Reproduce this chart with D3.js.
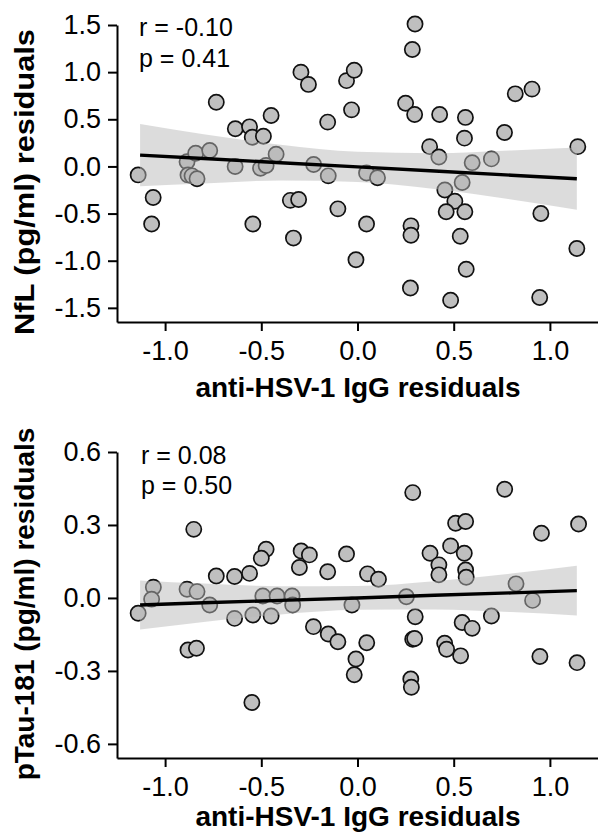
<!DOCTYPE html>
<html>
<head>
<meta charset="utf-8">
<script src="https://cdn.jsdelivr.net/npm/d3@7"></script>
<style>
  html, body { margin: 0; padding: 0; background: #fff; }
  svg { display: block; }
  text { font-family: "Liberation Sans", Arial, sans-serif; fill: #000; }
</style>
</head>
<body>
<svg id="chart" width="598" height="840"></svg>
<script>
// ---------------- data ----------------
const xTicks = [-1.0, -0.5, 0.0, 0.5, 1.0];
const nflTicks = [-1.5, -1.0, -0.5, 0.0, 0.5, 1.0, 1.5];
const ptauTicks = [-0.6, -0.3, 0.0, 0.3, 0.6];

const xTitle = "anti-HSV-1 IgG residuals";
const nflTitle = "NfL (pg/ml) residuals";
const ptauTitle = "pTau-181 (pg/ml) residuals";
const nflStats = ["r = -0.10", "p = 0.41"];
const ptauStats = ["r = 0.08", "p = 0.50"];

// NfL panel points
const nflX = [-1.14, -1.062, -1.07, -0.886, -0.841, -0.768, -0.881, -0.86, -0.834, -0.734,
  -0.635, -0.561, -0.547, -0.489, -0.449, -0.636, -0.504, -0.475, -0.423, -0.544,
  -0.294, -0.255, -0.349, -0.306, -0.333, -0.228, -0.152, -0.155, -0.102, -0.057,
  -0.017, -0.031, -0.008, 0.047, 0.104, 0.047, 0.25, 0.297, 0.299, 0.285,
  0.278, 0.278, 0.275, 0.375, 0.423, 0.427, 0.454, 0.484, 0.506, 0.461,
  0.558, 0.534, 0.565, 0.544, 0.561, 0.556, 0.596, 0.696, 0.764, 0.82,
  0.907, 0.953, 0.947, 1.14, 1.145];
const nflY = [-0.09, -0.33, -0.61, 0.05, 0.14, 0.17, -0.09, -0.10, -0.13, 0.68,
  0.40, 0.42, 0.31, 0.32, 0.54, 0.00, -0.02, 0.01, 0.13, -0.61,
  1.00, 0.87, -0.36, -0.35, -0.76, 0.02, -0.10, 0.47, -0.45, 0.91,
  1.02, 0.60, -0.99, -0.07, -0.12, -0.61, 0.67, 0.55, 1.51, 1.24,
  -0.63, -0.73, -1.29, 0.21, 0.10, 0.55, -0.25, -1.42, -0.37, -0.48,
  -0.48, -0.74, -1.09, -0.17, 0.52, 0.30, 0.04, 0.08, 0.36, 0.77,
  0.82, -0.50, -1.39, -0.87, 0.21];

// NfL regression fit and 95% CI band
const nflFitX = [-1.13, -0.8, -0.4, 0.0, 0.4, 0.8, 1.14];
const nflFit  = [0.12, 0.084, 0.039, -0.005, -0.049, -0.093, -0.131];
const nflLo   = [-0.21, -0.18, -0.15, -0.165, -0.24, -0.35, -0.46];
const nflHi   = [0.45, 0.34, 0.23, 0.155, 0.14, 0.17, 0.20];

// pTau-181 panel points
const ptauX = [-1.14, -1.061, -1.07, -0.886, -0.834, -0.851, -0.881, -0.837, -0.768, -0.734,
  -0.639, -0.561, -0.639, -0.544, -0.549, -0.475, -0.50, -0.492, -0.449, -0.418,
  -0.34, -0.337, -0.293, -0.25, -0.302, -0.229, -0.155, -0.152, -0.102, -0.057,
  -0.029, -0.008, -0.017, 0.052, 0.109, 0.048, 0.254, 0.287, 0.30, 0.287,
  0.297, 0.277, 0.28, 0.377, 0.423, 0.423, 0.453, 0.463, 0.484, 0.51,
  0.562, 0.555, 0.562, 0.565, 0.536, 0.544, 0.596, 0.696, 0.765, 0.824,
  0.91, 0.956, 0.948, 1.149, 1.141];
const ptauY = [-0.063, 0.044, -0.005, 0.036, 0.026, 0.282, -0.214, -0.207, -0.029, 0.090,
  0.088, 0.101, -0.084, -0.070, -0.43, 0.20, 0.163, 0.008, -0.074, 0.008,
  0.008, -0.029, 0.193, 0.177, 0.125, -0.118, 0.108, -0.148, -0.18, 0.181,
  -0.029, -0.251, -0.316, 0.099, 0.077, -0.184, 0.005, 0.433, -0.077, -0.17,
  -0.167, -0.333, -0.367, 0.184, 0.136, 0.095, -0.186, -0.211, 0.214, 0.307,
  0.314, 0.184, 0.115, 0.085, -0.238, -0.101, -0.125, -0.074, 0.447, 0.058,
  -0.01, 0.266, -0.241, 0.304, -0.266];

// pTau-181 regression fit and 95% CI band
const ptauFitX = [-1.13, -0.8, -0.4, 0.0, 0.4, 0.8, 1.14];
const ptauFit  = [-0.029, -0.020, -0.010, 0.000, 0.011, 0.021, 0.030];
const ptauLo   = [-0.130, -0.099, -0.068, -0.049, -0.047, -0.058, -0.072];
const ptauHi   = [0.072, 0.059, 0.048, 0.049, 0.069, 0.100, 0.132];

// ---------------- layout ----------------
const svg = d3.select("#chart");
const FONT_TICK = 27, FONT_TITLE = 28, FONT_STAT = 25;

function panel(cfg) {
  const x = d3.scaleLinear().domain([-1.25, 1.25]).range([117, 598]);
  const y = d3.scaleLinear().domain(cfg.yLim).range([cfg.bottom, cfg.top]);
  const g = svg.append("g");

  // points
  g.append("g").selectAll("circle")
    .data(cfg.xs.map((v, i) => [v, cfg.ys[i]]))
    .join("circle")
    .attr("cx", d => x(d[0]))
    .attr("cy", d => y(d[1]))
    .attr("r", 7.6)
    .attr("fill", "#bfbfbf")
    .attr("stroke", "#111")
    .attr("stroke-width", 1.7);

  // CI band
  const band = cfg.fitX.map((v, i) => ({ x: v, lo: cfg.lo[i], hi: cfg.hi[i] }));
  g.append("path")
    .datum(band)
    .attr("d", d3.area().curve(d3.curveMonotoneX)
      .x(d => x(d.x)).y0(d => y(d.lo)).y1(d => y(d.hi)))
    .attr("fill", "#bababa")
    .attr("fill-opacity", 0.5);

  // fit line
  g.append("path")
    .datum(cfg.fitX.map((v, i) => [v, cfg.fit[i]]))
    .attr("d", d3.line().x(d => x(d[0])).y(d => y(d[1])))
    .attr("fill", "none")
    .attr("stroke", "#000")
    .attr("stroke-width", 3.4);

  // axes
  const fmt = d => (Math.abs(d) < 1e-9 ? 0 : d).toFixed(1);
  const ax = g.append("g").attr("transform", `translate(0,${cfg.bottom})`)
    .call(d3.axisBottom(x).tickValues(xTicks).tickSize(9).tickSizeOuter(0)
      .tickPadding(10).tickFormat(fmt));
  const ay = g.append("g").attr("transform", "translate(117,0)")
    .call(d3.axisLeft(y).tickValues(cfg.ticks).tickSize(9).tickSizeOuter(0)
      .tickPadding(7).tickFormat(fmt));
  [ax, ay].forEach(a => {
    a.selectAll("path.domain").attr("stroke", "#000").attr("stroke-width", 2);
    a.selectAll(".tick line").attr("stroke", "#000").attr("stroke-width", 2);
    a.selectAll(".tick text").attr("font-size", FONT_TICK)
      .attr("font-family", "Liberation Sans, Arial, sans-serif").attr("fill", "#000");
  });

  // titles
  g.append("text")
    .attr("x", 358).attr("y", cfg.xTitleY)
    .attr("text-anchor", "middle")
    .attr("font-size", FONT_TITLE).attr("font-weight", "bold")
    .text(xTitle);
  const yt = g.append("text")
    .attr("transform", `translate(34,${cfg.yTitleC}) rotate(-90)`)
    .attr("text-anchor", "middle")
    .attr("font-size", FONT_TITLE).attr("font-weight", "bold")
    .text(cfg.yTitle);
  if (cfg.yTitleLen) {
    yt.attr("textLength", cfg.yTitleLen).attr("lengthAdjust", "spacingAndGlyphs");
  }

  // stats
  cfg.stats.forEach((s, i) => {
    g.append("text")
      .attr("x", cfg.statX).attr("y", cfg.statY[i])
      .attr("font-size", FONT_STAT)
      .text(s);
  });
}

panel({
  xs: nflX, ys: nflY, fitX: nflFitX, fit: nflFit, lo: nflLo, hi: nflHi,
  yLim: [-1.65, 1.5], top: 25, bottom: 322, ticks: nflTicks,
  yTitle: nflTitle, yTitleC: 182, yTitleLen: 306, xTitleY: 397,
  stats: nflStats, statX: 139, statY: [36, 67]
});

panel({
  xs: ptauX, ys: ptauY, fitX: ptauFitX, fit: ptauFit, lo: ptauLo, hi: ptauHi,
  yLim: [-0.658, 0.6], top: 452, bottom: 758, ticks: ptauTicks,
  yTitle: ptauTitle, yTitleC: 604, xTitleY: 826,
  stats: ptauStats, statX: 141, statY: [464, 494]
});
</script>
</body>
</html>
